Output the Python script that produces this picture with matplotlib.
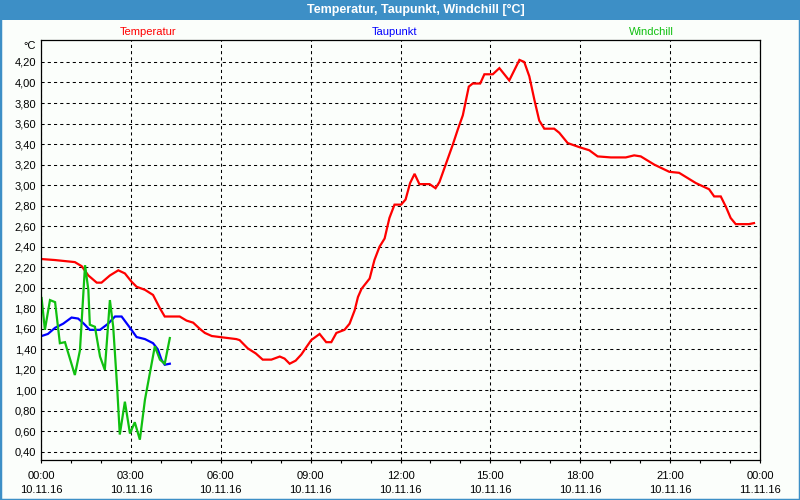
import numpy as np
import matplotlib.pyplot as plt
from matplotlib.patches import Rectangle
from matplotlib.ticker import MultipleLocator, FixedLocator

plt.rcParams['font.family'] = ['Liberation Sans', 'DejaVu Sans']

# hours since 10.11.16 00:00
temp_h = [0.02, 0.47, 0.80, 1.13, 1.36, 1.58, 1.86, 2.02, 2.30, 2.58, 2.80, 3.02,
          3.19, 3.47, 3.74, 3.97, 4.13, 4.41, 4.63, 4.86, 5.08, 5.30, 5.47, 5.70,
          5.97, 6.52, 6.63, 6.90, 7.17, 7.40, 7.69, 7.97, 8.13, 8.30, 8.50, 8.69,
          8.83, 9.02, 9.30, 9.52, 9.69, 9.86, 10.13, 10.30, 10.47, 10.58, 10.70,
          10.97, 11.13, 11.30, 11.47, 11.63, 11.80, 12.02, 12.17, 12.32, 12.47,
          12.63, 12.97, 13.17, 13.30, 13.52, 13.74, 13.91, 14.08, 14.28, 14.41,
          14.66, 14.80, 15.08, 15.30, 15.63, 15.97, 16.13, 16.30, 16.47, 16.63,
          16.80, 17.13, 17.30, 17.58, 17.97, 18.30, 18.58, 19.02, 19.52, 19.80,
          20.02, 20.47, 20.97, 21.30, 21.86, 22.30, 22.47, 22.69, 22.86, 23.02,
          23.19, 23.63, 23.80]
temp_v = [2.28, 2.27, 2.26, 2.25, 2.21, 2.12, 2.05, 2.05, 2.12, 2.17, 2.14, 2.06,
          2.01, 1.98, 1.93, 1.80, 1.72, 1.72, 1.72, 1.68, 1.66, 1.60, 1.56, 1.53,
          1.52, 1.50, 1.49, 1.41, 1.36, 1.30, 1.30, 1.33, 1.31, 1.26, 1.29, 1.35,
          1.41, 1.49, 1.55, 1.47, 1.47, 1.56, 1.59, 1.65, 1.78, 1.91, 1.99,
          2.09, 2.27, 2.40, 2.48, 2.68, 2.81, 2.81, 2.86, 3.02, 3.11,
          3.01, 3.01, 2.97, 3.03, 3.21, 3.39, 3.54, 3.68, 3.96, 3.99,
          3.99, 4.08, 4.08, 4.14, 4.02, 4.22, 4.20, 4.06, 3.83, 3.63,
          3.55, 3.55, 3.51, 3.41, 3.37, 3.34, 3.28, 3.27, 3.27, 3.29,
          3.28, 3.20, 3.13, 3.12, 3.02, 2.96, 2.89, 2.89, 2.79, 2.68,
          2.62, 2.62, 2.63]

dew_h = [0.02, 0.23, 0.47, 0.74, 1.02, 1.24, 1.43, 1.63, 1.97, 2.24, 2.47, 2.69,
         2.97, 3.19, 3.47, 3.74, 3.90, 4.02, 4.13, 4.30]
dew_v = [1.53, 1.55, 1.61, 1.65, 1.71, 1.70, 1.65, 1.59, 1.59, 1.65, 1.72, 1.72,
         1.61, 1.52, 1.50, 1.46, 1.40, 1.30, 1.25, 1.26]

wc_h = [0.02, 0.13, 0.30, 0.47, 0.63, 0.80, 1.13, 1.30, 1.47, 1.58, 1.63, 1.80,
        1.97, 2.13, 2.30, 2.41, 2.54, 2.63, 2.80, 2.97, 3.13, 3.30, 3.47, 3.80,
        3.97, 4.13, 4.30]
wc_v = [1.90, 1.59, 1.88, 1.86, 1.46, 1.47, 1.15, 1.39, 2.22, 1.98, 1.64, 1.62,
        1.33, 1.20, 1.88, 1.62, 1.04, 0.57, 0.89, 0.58, 0.69, 0.52, 0.91, 1.43,
        1.30, 1.26, 1.51]

x_ticks = [0, 3, 6, 9, 12, 15, 18, 21, 24]
x_labels = ['00:00\n10.11.16', '03:00\n10.11.16', '06:00\n10.11.16',
            '09:00\n10.11.16', '12:00\n10.11.16', '15:00\n10.11.16',
            '18:00\n10.11.16', '21:00\n10.11.16', '00:00\n11.11.16']
y_ticks = np.round(np.arange(0.4, 4.21, 0.2), 2)

series = [('Temperatur', temp_h, temp_v, '#ff0000', 148),
          ('Taupunkt', dew_h, dew_v, '#0000ff', 395),
          ('Windchill', wc_h, wc_v, '#10c010', 651)]

W, H = 800, 500
bg = '#fbfefb'
frame = '#3d8fc6'

fig = plt.figure(figsize=(W / 100, H / 100), dpi=100, facecolor=bg)
ax = fig.add_axes([41 / W, 40 / H, 719 / W, 420 / H], facecolor=bg)

for name, h, v, color, xpx in series:
    ax.plot(h, v, color=color, lw=1.6, solid_joinstyle='miter')
    fig.text(xpx / W, 1 - 32 / H, name, color=color, fontsize=8,
             ha='center', va='center')

ax.set_xlim(0, 24)
ax.set_ylim(0.322, 4.414)

ax.xaxis.set_major_locator(FixedLocator(x_ticks))
ax.set_xticklabels(x_labels, fontsize=8, linespacing=1.55)
ax.xaxis.set_minor_locator(MultipleLocator(1))
ax.tick_params(axis='x', which='both', direction='out', length=2.4, width=0.8,
               pad=5.5)

ax.set_yticks(y_ticks)
ax.set_yticklabels([f'{t:.2f}'.replace('.', ',') for t in y_ticks], fontsize=8)
ax.tick_params(axis='y', length=0, pad=3.5)

ax.grid(True, which='major', color='black', lw=0.75, linestyle=(0, (3, 3)))
for s in ax.spines.values():
    s.set_color('black')
    s.set_linewidth(0.9)

fig.text(36 / W, 1 - 46 / H, '°C', fontsize=8, ha='right', va='center')

# title bar and outer frame
fig.patches.append(Rectangle((0, 1 - 20 / H), 1, 20 / H, transform=fig.transFigure,
                             facecolor=frame, edgecolor='none', zorder=0))
fig.patches.append(Rectangle((0, 0), 1, 1, transform=fig.transFigure,
                             fill=False, edgecolor=frame, lw=2.5, zorder=1))
fig.text(416 / W, 1 - 10 / H, 'Temperatur, Taupunkt, Windchill [°C]', color='white',
         fontsize=9, fontweight='bold', ha='center', va='center')

fig.savefig('out.png', dpi=100, facecolor=bg)
